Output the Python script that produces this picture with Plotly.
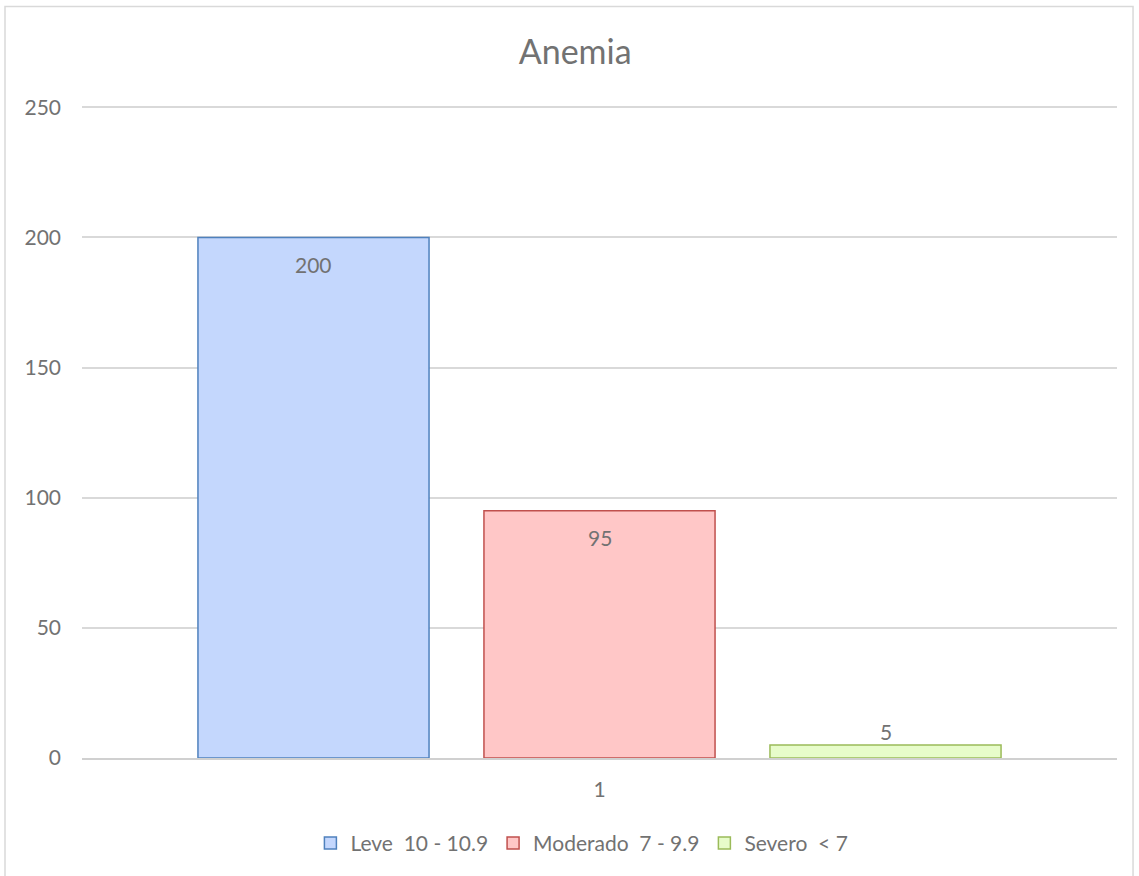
import plotly.graph_objects as go

categories = ["1"]
series_names = ["Leve\u00a0 10 - 10.9", "Moderado\u00a0 7 - 9.9", "Severo\u00a0 < 7"]
series_values = [[200], [95], [5]]
fill_colors = ["#c4d7fd", "#ffc7c7", "#e7fcca"]
line_colors = ["#4f81bd", "#c0504d", "#9bbb59"]

FONT = "Lato, Open Sans, sans-serif"
GRAY = "#727272"
BARGAP = 0.171
BARGROUPGAP = 0.192

fig = go.Figure()
for name, vals, fc, lc in zip(series_names, series_values, fill_colors, line_colors):
    fig.add_trace(go.Bar(
        x=categories, y=vals, name=name,
        marker=dict(color=fc, line=dict(color=lc, width=1.5)),
        hoverinfo="skip",
    ))

# data labels (Excel style: inside end, or above for short bars)
n = len(series_values)
slot = (1 - BARGAP) / n
for i, vals in enumerate(series_values):
    for j, v in enumerate(vals):
        off = (i - (n - 1) / 2) * slot
        shift = -27 if v > 20 else 13
        fig.add_annotation(x=j + off, y=v, xref="x", yref="y", text=str(v),
                           showarrow=False, yshift=shift, yanchor="middle",
                           font=dict(family=FONT, size=21, color=GRAY))

fig.update_layout(
    width=1139, height=876,
    margin=dict(l=82, r=22, t=106, b=116),
    paper_bgcolor="white", plot_bgcolor="white",
    barmode="group", bargap=BARGAP, bargroupgap=BARGROUPGAP,
    title=dict(text="Anemia", x=0.505, xref="container", xanchor="center",
               y=0.9406, yref="container", yanchor="middle",
               font=dict(family=FONT, size=34, color=GRAY)),
    font=dict(family=FONT, size=21, color=GRAY),
    legend=dict(orientation="h", x=0.483, xanchor="center", y=-0.131, yanchor="middle",
                font=dict(family=FONT, size=21, color=GRAY), itemwidth=30,
                traceorder="normal"),
    showlegend=True,
)
fig.update_yaxes(range=[0, 250.5], dtick=50, showgrid=True, gridcolor="#d9d9d9", gridwidth=1.5,
                 zeroline=False, showline=False, ticks="", ticklabelstandoff=20,
                 tickfont=dict(family=FONT, size=21, color=GRAY))
fig.update_xaxes(showline=True, linecolor="#d0d0d0", linewidth=2, ticks="",
                 ticklabelstandoff=12,
                 tickfont=dict(family=FONT, size=21, color=GRAY))

fig.add_shape(type="rect", xref="paper", yref="paper",
              x0=-0.0744, x1=1.0155, y0=-0.3, y1=1.1525,
              line=dict(color="#d9d9d9", width=1.5), fillcolor="rgba(0,0,0,0)", layer="below")

fig.write_html("out.html")
